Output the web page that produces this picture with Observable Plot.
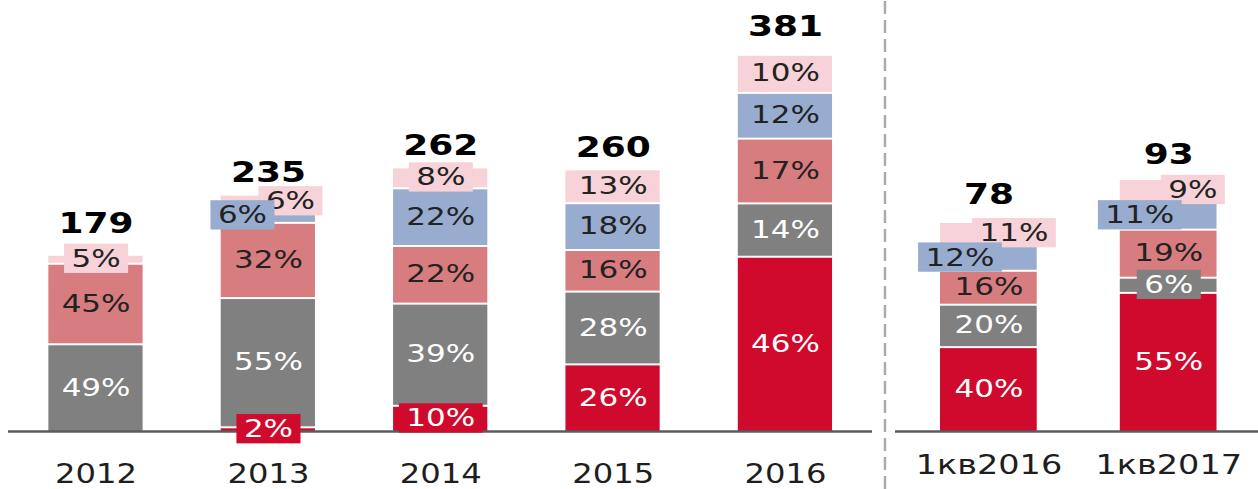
<!DOCTYPE html>
<html><head><meta charset="utf-8">
<script src="https://cdn.jsdelivr.net/npm/d3@7"></script>
<script src="https://cdn.jsdelivr.net/npm/@observablehq/plot@0.6"></script>
<style>
html,body{margin:0;padding:0;background:#fff;}
#chart{display:flex;width:1258px;height:489px;overflow:hidden;background:#fff;}
</style></head><body><div id="chart"></div>
<script>
// ---- data ----
const years = ["2012", "2013", "2014", "2015", "2016"];
const quarters = ["1кв2016", "1кв2017"];
const yearTotals = [179, 235, 262, 260, 381];
const quarterTotals = [78, 93];
const seriesNames = ["Сегмент 1", "Сегмент 2", "Сегмент 3", "Сегмент 4", "Сегмент 5"]; // bottom -> top
// shares in %, one array per series (bottom -> top), one value per category
const yearShares1 = [0, 2, 10, 26, 46];
const yearShares2 = [49, 55, 39, 28, 14];
const yearShares3 = [45, 32, 22, 16, 17];
const yearShares4 = [0, 6, 22, 18, 12];
const yearShares5 = [5, 6, 8, 13, 10];
const quarterShares1 = [40, 55];
const quarterShares2 = [20, 6];
const quarterShares3 = [16, 19];
const quarterShares4 = [12, 11];
const quarterShares5 = [11, 9];

// ---- style ----
const seriesColors = ["#cf0a2c", "#808080", "#d77c7f", "#98acd0", "#f7d2d9"];
const labelColors = ["#ffffff", "#ffffff", "#222222", "#222222", "#222222"];
const S = 1.24;          // horizontal stretch of the original picture
const H = 489, BASE = 431;

function panel(cfg) {
  const {cats, totals, shares, realW, axisFrom, axisTo, bandFrom, bandTo, padInner, padOuter,
         pxPerUnit, tickPadding, tickFont, nudges, lifts, sepX} = cfg;
  const W = realW / S;
  const n = cats.length;
  const step = (bandTo - bandFrom) / (n - padInner);
  const range = [(bandFrom - padOuter * step) / S, (bandTo + padOuter * step) / S];
  const yMax = BASE / pxPerUnit;

  const rows = [];
  cats.forEach((c, i) => shares.forEach((sh, j) => {
    if (sh[i] > 0) rows.push({cat: c, series: seriesNames[j], si: j, pct: sh[i], value: totals[i] * sh[i] / 100});
  }));
  const labelRows = rows.slice().sort((a, b) => b.si - a.si);
  const nudgeOf = d => nudges[d.cat + "|" + d.si] || 0;
  const nudgeVals = [...new Set(labelRows.map(nudgeOf))].sort((a, b) => ((a === 0) - (b === 0)) || (b - a));
  const stackOpts = extra => Plot.stackY({x: "cat", y: "value", z: "series", order: seriesNames, ...extra});

  const totalRows = cats.map((c, i) => ({cat: c, total: totals[i]}));
  const liftOf = d => lifts[d.cat] ?? -15;
  const liftVals = [...new Set(totalRows.map(liftOf))];

  const marks = [
    Plot.barY(rows, stackOpts({fill: d => seriesColors[d.si], insetTop: 2})),
    Plot.ruleY([0], {stroke: "#5b5b5b", strokeWidth: 2.5}),
    ...nudgeVals.map(nv => Plot.text(labelRows, Plot.filter(d => nudgeOf(d) === nv, stackOpts({
      text: d => d.pct + "%", fill: d => labelColors[d.si], ariaLabel: d => "s" + d.si,
      fontSize: 25, dx: nv / S
    })))),
    ...liftVals.map(lv => Plot.text(totalRows.filter(d => liftOf(d) === lv), {
      x: "cat", y: "total", text: d => String(d.total), dy: lv, lineAnchor: "bottom",
      fontWeight: "bold", fontSize: 29, fill: "#000"
    }))
  ];
  if (sepX != null) {
    const center0 = bandFrom + step * (1 - padInner) / 2;
    marks.push(Plot.ruleX([cats[0]], {
      x: d => d, y1: () => -(H - BASE) / pxPerUnit, y2: () => yMax,
      dx: (sepX - center0) / S, stroke: "#a9a9a9", strokeWidth: 2.4 / S, strokeDasharray: "13,6"
    }));
  }

  const svg = Plot.plot({
    width: W, height: H,
    marginTop: 0, marginBottom: H - BASE,
    marginLeft: axisFrom / S, marginRight: (realW - axisTo) / S,
    x: {domain: cats, range, paddingInner: padInner, paddingOuter: padOuter, tickSize: 0, tickPadding, label: null},
    y: {domain: [0, yMax], axis: null},
    style: {fontFamily: "DejaVu Sans", fontSize: tickFont + "px", color: "#1e1e1e", background: "white", overflow: "visible"},
    marks
  });
  document.getElementById("chart").appendChild(svg);
  svg.setAttribute("width", realW);
  svg.setAttribute("viewBox", `0 0 ${W} ${H}`);
  svg.setAttribute("preserveAspectRatio", "none");
  Object.assign(svg.style, {width: realW + "px", height: H + "px", maxWidth: "none", flex: "none"});

  // label background boxes
  svg.querySelectorAll("text[aria-label]").forEach(t => {
    const lab = t.getAttribute("aria-label");
    if (!/^s\d$/.test(lab)) return;
    const si = +lab.slice(1);
    const bb = t.getBBox();
    const r = document.createElementNS("http://www.w3.org/2000/svg", "rect");
    const padX = 6;
    r.setAttribute("x", bb.x - padX);
    r.setAttribute("y", bb.y);
    r.setAttribute("width", bb.width + 2 * padX);
    r.setAttribute("height", bb.height);
    r.setAttribute("fill", seriesColors[si]);
    const tr = t.getAttribute("transform");
    if (tr) r.setAttribute("transform", tr);
    t.parentNode.insertBefore(r, t);
  });
}

panel({
  cats: years, totals: yearTotals,
  shares: [yearShares1, yearShares2, yearShares3, yearShares4, yearShares5],
  realW: 878, axisFrom: 8, axisTo: 872, bandFrom: 47.5, bandTo: 832.5,
  padInner: 0.45, padOuter: 0.2, pxPerUnit: 1, tickPadding: 33, tickFont: 26,
  nudges: {"2013|3": -26, "2013|4": 22}, lifts: {"2012": -20}, sepX: null
});
panel({
  cats: quarters, totals: quarterTotals,
  shares: [quarterShares1, quarterShares2, quarterShares3, quarterShares4, quarterShares5],
  realW: 380, axisFrom: 17, axisTo: 380, bandFrom: 60.5, bandTo: 338.5,
  padInner: 0.464, padOuter: 0.2, pxPerUnit: 2.72, tickPadding: 23, tickFont: 27,
  nudges: {"1кв2016|3": -29, "1кв2016|4": 25, "1кв2017|3": -29, "1кв2017|4": 24}, lifts: {}, sepX: 5
});
</script></body></html>
